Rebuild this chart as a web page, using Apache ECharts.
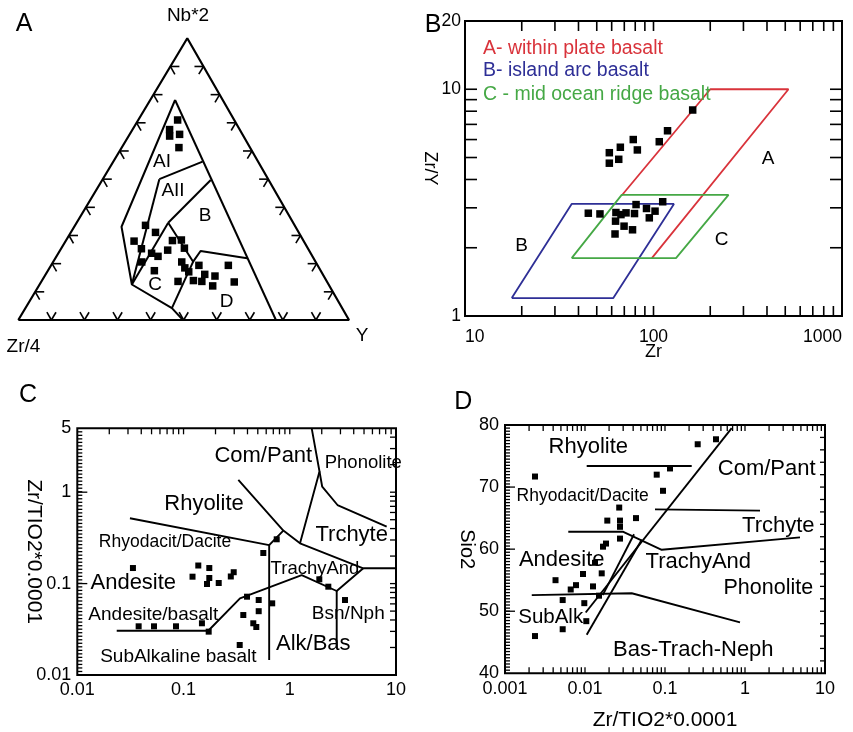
<!DOCTYPE html>
<html><head><meta charset="utf-8">
<script src="https://cdn.jsdelivr.net/npm/echarts@6/dist/echarts.min.js"></script>
<style>html,body{margin:0;padding:0;background:#fff}#chart{width:853px;height:732px}</style>
</head><body><div id="chart"></div>
<script>
const FONT = '"Liberation Sans", Arial, Helvetica, sans-serif';

// ---------- Panel A : ternary Zr/4 – Nb*2 – Y (percent) ----------
const aZr = [17.1,21.2,22.3,19.0,21.5,45.1,43.3,51.3,50.4,48.1,46.7,52.6,50.3,39.6,36.8,42.7,37.3,40.5,40.6,45.0,40.2,35.9,35.7,37.8,32.9,35.3,27.0,28.1,40.1];
const aNb = [71.0,67.6,65.3,65.9,61.2,33.6,31.1,28.0,25.3,23.7,22.6,20.6,17.5,28.2,28.4,24.8,25.5,20.6,18.5,13.7,14.0,19.4,16.2,13.7,15.6,12.1,19.4,13.5,17.1];
const aY  = [11.9,11.2,12.4,15.1,17.3,21.3,25.6,20.7,24.3,28.2,30.7,26.8,32.2,32.2,34.8,32.5,37.2,38.9,40.9,41.3,45.8,44.7,48.1,48.5,51.5,52.6,53.6,58.4,42.8];
const aTickFracs = [0.1,0.2,0.3,0.4,0.5,0.6,0.7,0.8,0.9];
// field boundaries, points as [Zr/4, Nb*2, Y] %
const aOuter   = [[14.4,78.1,7.5],[52.5,33.1,14.3],[59.5,12.6,27.9],[51.6,4.2,44.3],[50.2,0,49.8]];
const aRight   = [[14.4,78.1,7.5],[22.1,0,77.9]];
const aAIAII   = [[32.9,50.0,17.1],[16.8,56.2,27.0]];
const aAIIleft = [[32.9,50.0,17.1],[59.5,12.6,27.9]];
const aAIIB    = [[17.5,49.7,32.8],[37.8,34.5,27.7]];
const aCtop    = [[59.5,12.6,27.9],[37.8,34.5,27.7]];
const aBCD     = [[37.8,34.5,27.7],[37.0,20.7,42.3],[32.9,24.5,42.6],[20.1,21.9,58.0]];
const aCD      = [[37.0,20.7,42.3],[51.6,4.2,44.3]];

// ---------- Panel B : Zr vs Zr/Y ----------
const bZr  = [58.3,58.3,66.7,65.4,78.1,82.1,107.3,118.7,161.4,45.1,52.0,63.2,67.2,62.9,69.8,62.5,77.4,79.3,80.8,91.8,101.9,95.0,111.9,71.5];
const bZrY = [5.25,4.72,5.55,4.91,6.00,5.40,5.87,6.56,8.10,2.84,2.82,2.86,2.80,2.62,2.49,2.30,2.40,2.83,3.10,2.98,2.90,2.71,3.19,2.85];
const bFieldA = [[67.8,3.4],[200,10],[520,10],[98,1.8]];
const bFieldB = [[17.7,1.2],[36.8,3.12],[128.4,3.12],[61.2,1.2],[17.7,1.2]];
const bFieldC = [[36.8,1.8],[67.8,3.42],[250,3.42],[131.6,1.8],[36.8,1.8]];
const bXTicks = [20,30,40,50,60,70,80,90,100,200,300,400,500,600,700,800,900];
const bYTicks = [2,3,4,5,6,7,8,9,10];

// ---------- Panel C : Zr/TiO2*0.0001 (log-log) ----------
const cX = [0.0334,0.0378,0.0527,0.0849,0.149,0.1725,0.1215,0.1377,0.1748,0.1748,0.1663,0.2144,0.2786,0.2967,0.396,0.51,0.3653,0.51,0.4536,0.4842,0.3379,0.6835,0.5636,0.7535,1.897,2.306,3.311];
const cY = [0.148,0.0341,0.0341,0.0341,0.0368,0.0298,0.119,0.1577,0.148,0.1151,0.099,0.1015,0.1196,0.1332,0.0719,0.0661,0.0453,0.0499,0.0368,0.0335,0.0213,0.0608,0.2162,0.3053,0.1114,0.0925,0.0661];
const cRhyodacite = [[0.0313,0.518],[0.64,0.264],[0.87,0.38]];
const cAlkVert    = [[0.64,0.264],[0.64,0.0146]];
const cComPant    = [[0.328,1.36],[0.87,0.38],[1.249,0.276],[4.92,0.147],[10,0.147]];
const cPhonolite  = [[1.249,0.276],[1.905,1.684],[1.609,5]];
const cTrachyte   = [[1.905,1.684],[2.02,1.148],[2.814,0.724],[8.17,0.419]];
const cSubAlk     = [[0.0235,0.0305],[0.171,0.0305],[0.34,0.069],[1.295,0.124],[2.766,0.083],[4.92,0.147]];
const cBsnVert    = [[2.766,0.083],[2.766,0.0197]];
const cXTicks = [0.02,0.03,0.04,0.05,0.06,0.07,0.08,0.09,0.1,0.2,0.3,0.4,0.5,0.6,0.7,0.8,0.9,1,2,3,4,5,6,7,8,9];
const cYTicks = [0.02,0.03,0.04,0.05,0.06,0.07,0.08,0.09,0.1,0.2,0.3,0.4,0.5,0.6,0.7,0.8,0.9,1,2,3,4];
const cYMajor = [0.1,1];

// ---------- Panel D : Zr/TiO2*0.0001 vs SiO2 ----------
const dX = [0.00237,0.00428,0.00526,0.00526,0.00237,0.00663,0.00772,0.00944,0.0098,0.01038,0.01259,0.01334,0.01618,0.01496,0.0168,0.0183,0.019,0.02677,0.0274,0.0274,0.0274,0.0434,0.0788,0.0944,0.1155,0.2563,0.434];
const dSiO2 = [71.7,55.0,51.8,47.1,46.0,53.5,54.2,56.0,51.3,48.4,54.0,57.8,56.1,52.5,60.4,60.9,64.6,66.7,64.6,63.6,61.7,65.0,72.0,69.4,73.0,76.9,77.7];
const dMain      = [[0.0102,49.8],[0.682,79.5]];
const dBand1     = [[0.01665,52.6],[0.041,62.4]];
const dBand2     = [[0.0105,46.2],[0.0512,61.5]];
const dTrachyAnd = [[0.00618,62.8],[0.0301,62.8],[0.091,59.9],[4.87,61.9]];
const dBasTrach  = [[0.00216,52.6],[0.0384,52.9],[0.866,48.2]];
const dRhyolite  = [[0.0105,73.4],[0.2157,73.4]];
const dTrachyte  = [[0.075,66.4],[1.54,66.2]];
const dXTicks = [0.002,0.003,0.004,0.005,0.006,0.007,0.008,0.009,0.01,0.02,0.03,0.04,0.05,0.06,0.07,0.08,0.09,0.1,0.2,0.3,0.4,0.5,0.6,0.7,0.8,0.9,1,2,3,4,5,6,7,8,9];
const dYMajor = [50,60,70];
const dYRight = [42,44,46,48,50,52,54,56,58,60,62,64,66,68,70,72,74,76,78];

// ---------- helpers ----------
const SKEW = 0.511;
const tern = p => [(p[2] + p[1] * SKEW) / 100, p[1] / 100];
const fmt = v => String(+Number(v).toPrecision(6));
const LBL = {color:'#000', fontFamily:FONT};

function lineS(gi, pts, color, width) {
  return {type:'line', xAxisIndex:gi, yAxisIndex:gi, data:pts, symbol:'none', silent:true,
    lineStyle:{color:color, width:width, opacity:1}, z:3, clip:false};
}
function scatterS(gi, pts, size) {
  return {type:'scatter', xAxisIndex:gi, yAxisIndex:gi, data:pts, symbol:'rect', symbolSize:size,
    itemStyle:{color:'#000', opacity:1}, silent:true, z:5, clip:false};
}
function tickLayer(gi, xr, yr, cfg) {
  return {
    type:'custom', xAxisIndex:gi, yAxisIndex:gi, data:[[xr[0], yr[0]]], silent:true, z:4,
    renderItem: function (params, api) {
      const kids = [];
      const w = cfg.w || 1.3;
      const ln = (x1,y1,x2,y2) => kids.push({type:'line', shape:{x1,y1,x2,y2}, style:{stroke:'#000', lineWidth:w}});
      (cfg.bottom||[]).forEach(v => { const p = api.coord([v, yr[0]]); ln(p[0],p[1],p[0],p[1]-cfg.lenB); });
      (cfg.top||[]).forEach(v => { const p = api.coord([v, yr[1]]); ln(p[0],p[1],p[0],p[1]+cfg.lenT); });
      (cfg.left||[]).forEach(v => { const p = api.coord([xr[0], v]); ln(p[0],p[1],p[0]+cfg.lenL,p[1]); });
      (cfg.right||[]).forEach(v => { const p = api.coord([xr[1], v]); ln(p[0],p[1],p[0]-cfg.lenR,p[1]); });
      if (cfg.comb) {
        const a = api.coord([xr[0], yr[0]]), b = api.coord([xr[0], yr[1]]);
        for (let i = 1; i < cfg.comb.count; i++) {
          const y = a[1] + (b[1]-a[1]) * i / cfg.comb.count;
          ln(a[0], y, a[0] + cfg.comb.len, y);
        }
      }
      return {type:'group', children:kids};
    }
  };
}
const ternTicks = {
  type:'custom', xAxisIndex:0, yAxisIndex:0, data:[[0,0]], silent:true, z:4,
  renderItem: function (params, api) {
    const BL = api.coord([0,0]), BR = api.coord([1,0]), AP = api.coord([SKEW,1]);
    const L = 9, kids = [];
    const u = (a,b) => { const dx=b[0]-a[0], dy=b[1]-a[1], n=Math.hypot(dx,dy); return [dx/n, dy/n]; };
    const uL = u(BL,AP), uR = u(BR,AP), uB = u(BL,BR);
    const lerp = (a,b,f) => [a[0]+(b[0]-a[0])*f, a[1]+(b[1]-a[1])*f];
    const seg = (p,d) => kids.push({type:'line', shape:{x1:p[0],y1:p[1],x2:p[0]+d[0]*L,y2:p[1]+d[1]*L}, style:{stroke:'#000', lineWidth:1.6}});
    aTickFracs.forEach(f => {
      const pb = lerp(BL,BR,f); seg(pb,uL); seg(pb,uR);
      const pl = lerp(BL,AP,f); seg(pl,uB); seg(pl,[-uR[0],-uR[1]]);
      const pr = lerp(BR,AP,f); seg(pr,[-uB[0],-uB[1]]); seg(pr,[-uL[0],-uL[1]]);
    });
    return {type:'group', children:kids};
  }
};
const T = (text, x, y, size, extra) => ({type:'text', x:x, y:y, silent:true, z:20,
  style:Object.assign({text:text, fontSize:size, fontFamily:FONT, fill:'#000',
    align:'center', verticalAlign:'middle', textAlign:'center', textVerticalAlign:'middle'}, extra||{})});

const RED = '#d9333b', BLUE = '#2e2f96', GREEN = '#45a845';

const option = {
  animation:false,
  backgroundColor:'#fff',
  grid:[
    {left:18.3, top:38.3, width:330.7, height:281.7, show:false},
    {left:465, top:21, width:377, height:295, show:true, borderColor:'#000', borderWidth:2},
    {left:77.3, top:428.3, width:318.7, height:246.7, show:true, borderColor:'#000', borderWidth:2},
    {left:505, top:425, width:320, height:248.3, show:true, borderColor:'#000', borderWidth:2}
  ],
  xAxis:[
    {gridIndex:0, type:'value', min:0, max:1, show:false},
    {gridIndex:1, type:'log', min:10, max:1000, axisLine:{show:false}, axisTick:{show:false}, splitLine:{show:false},
     axisLabel:Object.assign({fontSize:17.5, margin:12, formatter:fmt, alignMinLabel:'left', alignMaxLabel:'right'}, LBL),
     name:'Zr', nameLocation:'middle', nameGap:27, nameMoveOverlap:false, nameTextStyle:Object.assign({fontSize:18}, LBL)},
    {gridIndex:2, type:'log', min:0.01, max:10, axisLine:{show:false}, axisTick:{show:false}, splitLine:{show:false},
     axisLabel:Object.assign({fontSize:18, margin:6, formatter:fmt}, LBL)},
    {gridIndex:3, type:'log', min:0.001, max:10, axisLine:{show:false}, axisTick:{show:false}, splitLine:{show:false},
     axisLabel:Object.assign({fontSize:18, margin:7, formatter:fmt}, LBL),
     name:'Zr/TIO2*0.0001', nameLocation:'middle', nameGap:36, nameMoveOverlap:false, nameTextStyle:Object.assign({fontSize:21}, LBL)}
  ],
  yAxis:[
    {gridIndex:0, type:'value', min:0, max:1, show:false},
    {gridIndex:1, type:'log', min:1, max:20, axisLine:{show:false}, axisTick:{show:false}, splitLine:{show:false},
     axisLabel:Object.assign({fontSize:17.5, margin:4, formatter:fmt}, LBL),
     name:'Zr/Y', nameLocation:'middle', nameRotate:-90, nameGap:26, nameMoveOverlap:false, nameTextStyle:Object.assign({fontSize:18}, LBL)},
    {gridIndex:2, type:'log', min:0.01, max:5, axisLine:{show:false}, axisTick:{show:false}, splitLine:{show:false},
     axisLabel:Object.assign({fontSize:18, margin:6, formatter:fmt}, LBL),
     name:'Zr/TIO2*0.0001', nameLocation:'middle', nameRotate:-90, nameGap:33, nameMoveOverlap:false, nameTextStyle:Object.assign({fontSize:21}, LBL)},
    {gridIndex:3, type:'value', min:40, max:80, interval:10, axisLine:{show:false}, axisTick:{show:false}, splitLine:{show:false},
     axisLabel:Object.assign({fontSize:18, margin:6}, LBL),
     name:'Sio2', nameLocation:'middle', nameRotate:-90, nameGap:28, nameMoveOverlap:false, nameTextStyle:Object.assign({fontSize:20}, LBL)}
  ],
  series:[
    // Panel A
    lineS(0, [[100,0,0],[0,100,0],[0,0,100],[100,0,0]].map(tern), '#000', 2.2),
    lineS(0, aOuter.map(tern), '#000', 2),
    lineS(0, aRight.map(tern), '#000', 2),
    lineS(0, aAIAII.map(tern), '#000', 2),
    lineS(0, aAIIleft.map(tern), '#000', 2),
    lineS(0, aAIIB.map(tern), '#000', 2),
    lineS(0, aCtop.map(tern), '#000', 2),
    lineS(0, aBCD.map(tern), '#000', 2),
    lineS(0, aCD.map(tern), '#000', 2),
    ternTicks,
    scatterS(0, aZr.map((z,i) => tern([z, aNb[i], aY[i]])), 7.5),
    // Panel B
    lineS(1, bFieldA, RED, 1.8),
    lineS(1, bFieldB, BLUE, 1.8),
    lineS(1, bFieldC, GREEN, 1.8),
    tickLayer(1, [10,1000], [1,20], {bottom:bXTicks, top:bXTicks, left:bYTicks, right:bYTicks, lenB:10, lenT:10, lenL:12, lenR:12, w:1.6}),
    scatterS(1, bZr.map((v,i) => [v, bZrY[i]]), 7.5),
    // Panel C
    lineS(2, cRhyodacite, '#000', 1.9),
    lineS(2, cAlkVert, '#000', 1.9),
    lineS(2, cComPant, '#000', 1.9),
    lineS(2, cPhonolite, '#000', 1.9),
    lineS(2, cTrachyte, '#000', 1.9),
    lineS(2, cSubAlk, '#000', 1.9),
    lineS(2, cBsnVert, '#000', 1.9),
    tickLayer(2, [0.01,10], [0.01,5], {top:cXTicks, left:cYMajor, right:cYTicks, lenT:6, lenL:10, lenR:6, comb:{count:70, len:5}}),
    scatterS(2, cX.map((v,i) => [v, cY[i]]), 6),
    // Panel D
    lineS(3, dMain, '#000', 1.9),
    lineS(3, dBand1, '#000', 1.9),
    lineS(3, dBand2, '#000', 1.9),
    lineS(3, dTrachyAnd, '#000', 1.9),
    lineS(3, dBasTrach, '#000', 1.9),
    lineS(3, dRhyolite, '#000', 1.9),
    lineS(3, dTrachyte, '#000', 1.9),
    tickLayer(3, [0.001,10], [40,80], {top:dXTicks, bottom:dXTicks, left:dYMajor, right:dYRight, lenT:6, lenB:6, lenL:10, lenR:5, comb:{count:80, len:5}}),
    scatterS(3, dX.map((v,i) => [v, dSiO2[i]]), 6)
  ],
  graphic:[
    // Panel A
    T('A', 24, 24, 25), T('Nb*2', 188, 16, 19), T('Zr/4', 23.5, 346.5, 19), T('Y', 362, 336, 19),
    T('AI', 162, 162, 19), T('AII', 173, 191, 19), T('B', 205, 216, 19), T('C', 155, 285, 19), T('D', 226.7, 301.7, 19),
    // Panel B
    T('B', 433, 25, 25),
    T('A- within plate basalt', 483, 48.3, 19.5, {align:'left', textAlign:'left', fill:RED}),
    T('B- island arc basalt', 483, 70.7, 19.5, {align:'left', textAlign:'left', fill:BLUE}),
    T('C - mid ocean ridge basalt', 483, 94.3, 19.5, {align:'left', textAlign:'left', fill:GREEN}),
    T('A', 768, 159, 19), T('B', 521.7, 246, 19), T('C', 721.7, 239.3, 19),
    // Panel C
    T('C', 28, 395, 25),
    T('Com/Pant', 263.3, 456, 22), T('Phonolite', 363.3, 463.3, 18.5), T('Rhyolite', 204, 504, 22),
    T('Trchyte', 351.7, 535, 22), T('Rhyodacit/Dacite', 165, 542.3, 17.5), T('TrachyAnd', 315, 569.3, 18.5),
    T('Andesite', 133.3, 583.3, 22), T('Andesite/basalt', 153.3, 615, 19), T('Bsn/Nph', 348.3, 613.3, 19),
    T('Alk/Bas', 313.3, 644, 22), T('SubAlkaline basalt', 178.3, 656.7, 19),
    // Panel D
    T('D', 463.3, 401.7, 25),
    T('Rhyolite', 588.3, 446.7, 22), T('Com/Pant', 766.7, 469.3, 22), T('Rhyodacit/Dacite', 582.7, 496, 17.5),
    T('Trchyte', 778.3, 526, 22), T('Andesite', 561.7, 560, 22), T('TrachyAnd', 698.3, 561.7, 22),
    T('Phonolite', 768.3, 588.3, 21.5), T('SubAlk', 550.7, 617.3, 20.5), T('Bas-Trach-Neph', 693.3, 650, 22)
  ]
};

const chart = echarts.init(document.getElementById('chart'), null, {renderer:'canvas', width:853, height:732});
chart.setOption(option);
</script>
</body></html>
